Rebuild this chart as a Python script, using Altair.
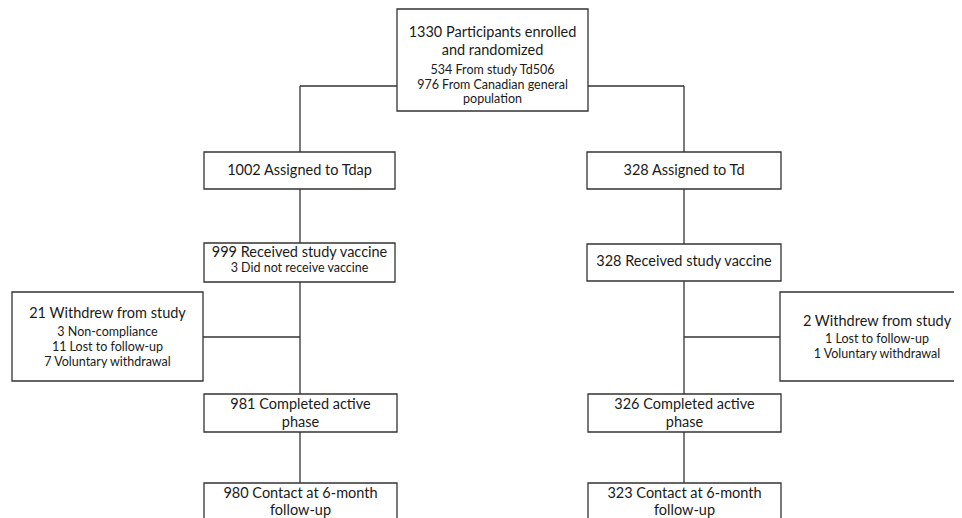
import altair as alt
import pandas as pd

# ---- flowchart content (counts / labels) ----
node_text = [
    ["1330 Participants enrolled", "and randomized", "534 From study Td506", "976 From Canadian general", "population"],
    ["1002 Assigned to Tdap"],
    ["328 Assigned to Td"],
    ["999 Received study vaccine", "3 Did not receive vaccine"],
    ["328 Received study vaccine"],
    ["21 Withdrew from study", "3 Non-compliance", "11 Lost to follow-up", "7 Voluntary withdrawal"],
    ["2 Withdrew from study", "1 Lost to follow-up", "1 Voluntary withdrawal"],
    ["981 Completed active", "phase"],
    ["326 Completed active", "phase"],
    ["980 Contact at 6-month", "follow-up"],
    ["323 Contact at 6-month", "follow-up"],
]
# which lines are "big" (headline) text
node_big = [
    [1, 1, 0, 0, 0],
    [1],
    [1],
    [1, 0],
    [1],
    [1, 0, 0, 0],
    [1, 0, 0],
    [1, 1],
    [1, 1],
    [1, 1],
    [1, 1],
]

# ---- layout (pixel-space of the 962x518 page) ----
box_x0 = [397, 204, 587, 204, 587, 12, 780, 204, 588, 204, 588]
box_x1 = [588, 395, 781, 395, 781, 203, 975, 397, 781, 397, 781]
box_y0 = [9, 152, 152, 243, 244, 292, 292, 394, 394, 483, 483]
box_y1 = [111, 189, 189, 282, 281, 381, 381, 432, 432, 540, 540]
line_y = [
    [33, 51, 70, 85, 99],
    [171],
    [171],
    [253, 268],
    [262],
    [314, 332, 347, 362],
    [322, 339, 354],
    [405, 423],
    [405, 423],
    [494, 511],
    [494, 511],
]

conn_x0 = [300, 588, 300, 684, 300, 684, 300, 684, 203, 684, 300, 684]
conn_x1 = [397, 684, 300, 684, 300, 684, 300, 684, 300, 780, 300, 684]
conn_y0 = [86, 86, 86, 86, 189, 189, 282, 281, 337, 337, 432, 432]
conn_y1 = [86, 86, 152, 152, 243, 244, 394, 394, 337, 337, 483, 483]

boxes = pd.DataFrame({"x0": box_x0, "x1": box_x1, "y0": box_y0, "y1": box_y1})
conns = pd.DataFrame({"x0": conn_x0, "x1": conn_x1, "y0": conn_y0, "y1": conn_y1})

rows = []
for i, lines in enumerate(node_text):
    cx = (box_x0[i] + min(box_x1[i], 974)) / 2
    for j, t in enumerate(lines):
        rows.append({"t": t, "x": cx, "y": line_y[i][j], "big": node_big[i][j]})
texts = pd.DataFrame(rows)

W, H = 946, 510
xs = alt.Scale(domain=[8, 8 + W], range=[0, W], nice=False, zero=False)
ys = alt.Scale(domain=[8, 8 + H], range=[0, H], nice=False, zero=False)
ax = None

line_col = "#333333"

rules = alt.Chart(conns).mark_rule(color=line_col, strokeWidth=1.3).encode(
    x=alt.X("x0:Q", scale=xs, axis=ax), x2="x1:Q",
    y=alt.Y("y0:Q", scale=ys, axis=ax), y2="y1:Q",
)
rects = alt.Chart(boxes).mark_rect(fill="white", stroke=line_col, strokeWidth=1.3).encode(
    x=alt.X("x0:Q", scale=xs, axis=ax), x2="x1:Q",
    y=alt.Y("y0:Q", scale=ys, axis=ax), y2="y1:Q",
)
big = alt.Chart(texts[texts.big == 1]).mark_text(
    font="Lato", fontSize=14.5, color="#1a1a1a", baseline="middle", align="center"
).encode(x=alt.X("x:Q", scale=xs, axis=ax), y=alt.Y("y:Q", scale=ys, axis=ax), text="t:N")
small = alt.Chart(texts[texts.big == 0]).mark_text(
    font="Lato", fontSize=12.5, color="#1a1a1a", baseline="middle", align="center"
).encode(x=alt.X("x:Q", scale=xs, axis=ax), y=alt.Y("y:Q", scale=ys, axis=ax), text="t:N")

chart = alt.layer(rules, rects, big, small).properties(
    width=W, height=H, padding=0, background="white",
    autosize=alt.AutoSizeParams(type="none")
).configure_view(stroke="transparent", strokeWidth=0)

chart.save("out.html", embed_options={"renderer": "svg", "actions": False})
